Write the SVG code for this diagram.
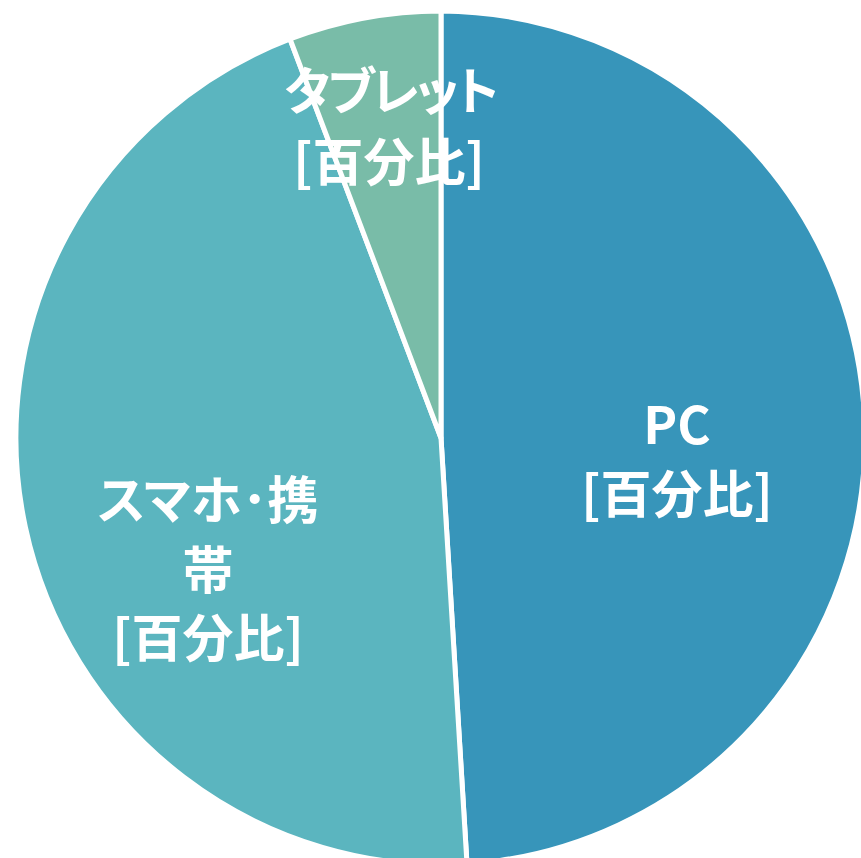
<svg xmlns="http://www.w3.org/2000/svg" width="861" height="858" viewBox="0 0 861 858">
<style>
.slice{stroke:#fff;stroke-width:5;stroke-linejoin:round}
.lbl{font-family:"Noto Sans CJK JP","Noto Sans",sans-serif;font-weight:bold;font-size:51px;fill:#fff;text-anchor:middle;font-feature-settings:"palt"}
.tight{letter-spacing:-3px}
</style>
<rect width="861" height="858" fill="#fff"/>
<g id="slices">
<g id="pc"><path class="slice" fill="#3795BA" d="M441,438 L441,11 A427,427 0 0 1 467,864 Z"/></g>
<g id="smartphone"><path class="slice" fill="#5BB5BF" d="M441,438 L467,864 A427,427 0 0 1 290,39 Z"/></g>
<g id="tablet"><path class="slice" fill="#79BCA8" d="M441,438 L290,39 A427,427 0 0 1 441,11 Z"/></g>
</g>
<g id="labels">
<text class="lbl" x="677" y="444">PC</text>
<text class="lbl" x="677" y="513">[百分比]</text>
<text class="lbl" x="208" y="519">スマホ･携</text>
<text class="lbl" x="208" y="589">帯</text>
<text class="lbl" x="208" y="657">[百分比]</text>
<text class="lbl tight" x="390" y="110">タブレット</text>
<text class="lbl" x="389" y="181">[百分比]</text>
</g>
</svg>
